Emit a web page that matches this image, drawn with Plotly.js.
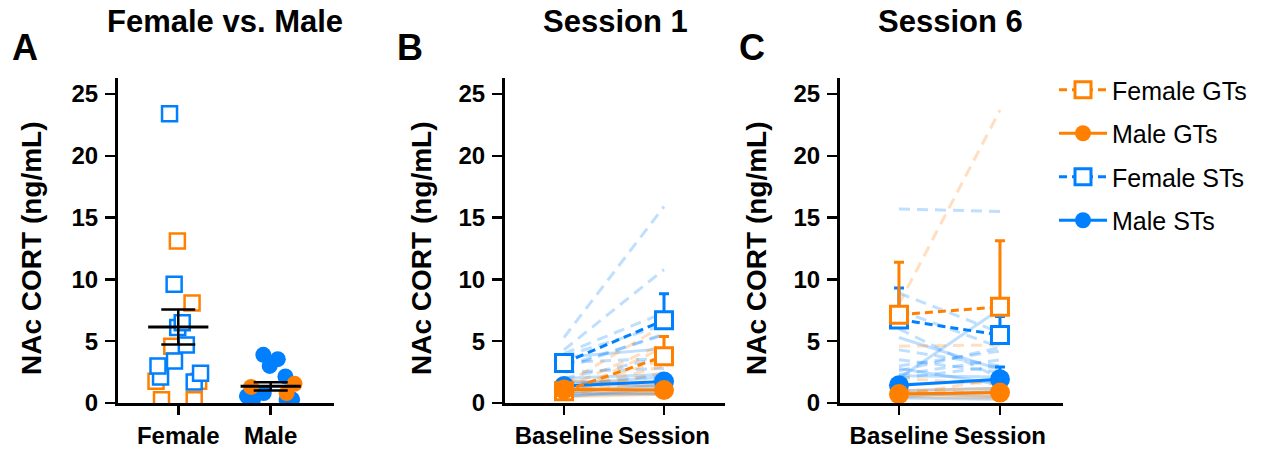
<!DOCTYPE html>
<html><head><meta charset="utf-8">
<script src="https://cdn.plot.ly/plotly-3.0.1.min.js"></script>
<style>html,body{margin:0;padding:0;background:#fff;}#chart{width:1271px;height:450px;}</style>
</head><body><div id="chart"></div>
<script>
// ---------- data ----------
const groupsA = ['Female', 'Male'];
const femaleGT_A = [13.1, 8.1, 4.6, 1.75, 1.75, 0.27, 0.27];
const femaleST_A = [23.4, 9.6, 6.5, 6.1, 4.7, 3.4, 3.0, 2.4, 2.1, 1.7];
const maleGT_A = [1.55, 1.3, 0.8];
const maleST_A = [3.9, 3.55, 3.0, 2.15, 0.8, 0.55, 0.3, 0.25, 0.25];
const meanA = [6.15, 1.35];
const semA = [1.42, 0.33];

const timepoints = ['Baseline', 'Session'];
// Session 1 individual subjects
const s1_FST_base = [5.3, 4.3, 4.0, 3.8, 3.3, 2.8, 2.5, 2.0, 1.5, 3.0];
const s1_FST_sess = [15.9, 10.8, 7.3, 6.3, 3.6, 5.6, 2.8, 3.7, 2.2, 5.5];
const s1_FGT_base = [1.5, 1.2, 1.0, 0.8, 0.6, 0.9, 0.7];
const s1_FGT_sess = [6.3, 4.8, 3.5, 2.5, 2.0, 3.0, 4.5];
const s1_MST_base = [3.7, 2.0, 1.8, 1.5, 1.2, 0.8, 0.6, 0.5, 0.8];
const s1_MST_sess = [4.4, 2.3, 1.3, 2.1, 1.0, 1.5, 0.8, 1.2, 0.7];
const s1_MGT_base = [1.8, 1.2, 0.9, 0.5];
const s1_MGT_sess = [1.6, 1.4, 0.8, 0.7];
// Session 1 group means and SEM
const s1_FGT_mean = [0.95, 3.78], s1_FGT_sem = [0.3, 1.6];
const s1_MGT_mean = [1.1, 1.05], s1_MGT_sem = [0.25, 0.2];
const s1_FST_mean = [3.24, 6.7], s1_FST_sem = [0.4, 2.15];
const s1_MST_mean = [1.38, 1.73], s1_MST_sem = [0.35, 0.45];

// Session 6 individual subjects
const s6_FST_base = [15.7, 8.9, 7.5, 6.0, 4.3, 3.5, 3.0, 2.6, 2.3, 2.0];
const s6_FST_sess = [15.5, 5.7, 4.5, 2.0, 3.0, 2.5, 4.2, 4.5, 3.5, 3.0];
const s6_FGT_base = [8.0, 4.6, 2.0, 1.0, 0.6];
const s6_FGT_sess = [23.7, 4.7, 1.5, 0.8, 2.0];
const s6_MST_base = [5.3, 2.0, 2.2, 1.5, 1.0, 0.8, 0.5, 2.8, 0.4];
const s6_MST_sess = [2.7, 7.6, 2.1, 1.8, 1.2, 0.5, 1.0, 1.5, 0.3];
const s6_MGT_base = [1.0, 0.7, 0.5, 0.8];
const s6_MGT_sess = [1.2, 0.9, 0.4, 0.6];
// Session 6 group means and SEM
const s6_FGT_mean = [7.15, 7.78], s6_FGT_sem = [4.25, 5.35];
const s6_MGT_mean = [0.72, 0.84], s6_MGT_sem = [0.2, 0.3];
const s6_FST_mean = [6.75, 5.5], s6_FST_sem = [2.55, 1.5];
const s6_MST_mean = [1.43, 1.92], s6_MST_sem = [0.4, 1.0];

const yTicks = [0, 5, 10, 15, 20, 25];

// ---------- styles ----------
const ORANGE = 'rgb(255,128,0)';
const BLUE = 'rgb(0,128,255)';
const ORANGE_L = 'rgba(255,128,0,0.25)';
const BLUE_L = 'rgba(0,128,255,0.25)';
const FONT = 'Liberation Sans, Arial, sans-serif';
const W = 1271, H = 450;

const traces = [];

// Panel A: scatter of individual values
function boxPts(vals, pos, color, symbol, size) {
  const filled = symbol === 'circle';
  return {
    type: 'box', y: vals, x0: pos, name: pos, boxpoints: 'all', jitter: 1, pointpos: 0,
    fillcolor: 'rgba(0,0,0,0)', line: {width: 0, color: 'rgba(0,0,0,0)'},
    marker: {symbol: filled ? 'circle' : 'square', size: size,
      color: filled ? color : 'white', line: {color: color, width: filled ? 0 : 2.5}},
    xaxis: 'x', yaxis: 'y', showlegend: false, hoverinfo: 'y'
  };
}
traces.push(boxPts(femaleGT_A, 'Female', ORANGE, 'square', 15));
traces.push(boxPts(femaleST_A, 'Female', BLUE, 'square', 15));
traces.push(boxPts(maleST_A, 'Male', BLUE, 'circle', 16));
traces.push(boxPts(maleGT_A, 'Male', ORANGE, 'circle', 16));
traces.push({
  type: 'scatter', mode: 'markers', x: groupsA, y: meanA,
  marker: {symbol: 'line-ew', size: 43, color: 'black', line: {color: 'black', width: 3}},
  error_y: {type: 'data', array: semA, visible: true, color: 'black', thickness: 2.5, width: 17},
  xaxis: 'x', yaxis: 'y', showlegend: false, cliponaxis: false
});

// Panels B & C
function subjects(base, sess, color, dash, ax) {
  const x = [], y = [];
  base.forEach((b, i) => { x.push(timepoints[0], timepoints[1], timepoints[1]); y.push(b, sess[i], null); });
  return {type: 'scatter', mode: 'lines', x: x, y: y, connectgaps: false,
    line: {color: color, width: 3, dash: dash ? '11px,7px' : 'solid'},
    xaxis: 'x' + ax, yaxis: 'y' + ax, showlegend: false, hoverinfo: 'skip', cliponaxis: false};
}
function meanTrace(mean, sem, color, female, ax, name, rank, legend) {
  return {type: 'scatter', mode: 'lines+markers', x: timepoints, y: mean, name: name,
    legendgroup: name, legendrank: rank, showlegend: legend,
    line: {color: color, width: 3, dash: female ? '8px,5px' : 'solid'},
    marker: female ? {symbol: 'square', size: 17, color: 'white', line: {color: color, width: 3}}
                   : {symbol: 'circle', size: 20, color: color, line: {width: 0}},
    error_y: {type: 'data', array: sem, arrayminus: [0, 0], symmetric: false, visible: true,
      color: color, thickness: 3, width: 5},
    xaxis: 'x' + ax, yaxis: 'y' + ax, cliponaxis: false};
}
function panel(ax, ind, means, legend) {
  traces.push(subjects(ind.FST[0], ind.FST[1], BLUE_L, true, ax));
  traces.push(subjects(ind.MST[0], ind.MST[1], BLUE_L, false, ax));
  traces.push(subjects(ind.FGT[0], ind.FGT[1], ORANGE_L, true, ax));
  traces.push(subjects(ind.MGT[0], ind.MGT[1], ORANGE_L, false, ax));
  traces.push(meanTrace(means.FST[0], means.FST[1], BLUE, true, ax, 'Female STs', 3, legend));
  traces.push(meanTrace(means.MST[0], means.MST[1], BLUE, false, ax, 'Male STs', 4, legend));
  traces.push(meanTrace(means.FGT[0], means.FGT[1], ORANGE, true, ax, 'Female GTs', 1, legend));
  traces.push(meanTrace(means.MGT[0], means.MGT[1], ORANGE, false, ax, 'Male GTs', 2, legend));
}
panel('2',
  {FST: [s1_FST_base, s1_FST_sess], MST: [s1_MST_base, s1_MST_sess], FGT: [s1_FGT_base, s1_FGT_sess], MGT: [s1_MGT_base, s1_MGT_sess]},
  {FST: [s1_FST_mean, s1_FST_sem], MST: [s1_MST_mean, s1_MST_sem], FGT: [s1_FGT_mean, s1_FGT_sem], MGT: [s1_MGT_mean, s1_MGT_sem]}, true);
panel('3',
  {FST: [s6_FST_base, s6_FST_sess], MST: [s6_MST_base, s6_MST_sess], FGT: [s6_FGT_base, s6_FGT_sess], MGT: [s6_MGT_base, s6_MGT_sess]},
  {FST: [s6_FST_mean, s6_FST_sem], MST: [s6_MST_mean, s6_MST_sem], FGT: [s6_FGT_mean, s6_FGT_sem], MGT: [s6_MGT_mean, s6_MGT_sem]}, false);

// ---------- layout ----------
const yDom = [(H - 403) / H, (H - 78) / H];
function yAxis(anchor) {
  return {domain: yDom, anchor: anchor, range: [0, 26.3], tickvals: yTicks, ticktext: yTicks.map(String),
    showline: true, linecolor: 'black', linewidth: 3, ticks: 'outside', ticklen: 10, tickwidth: 2.5,
    tickcolor: 'black', tickfont: {family: FONT, size: 24, weight: 'bold', color: 'black'},
    showgrid: false, zeroline: false, fixedrange: true, ticklabelstandoff: 2};
}
function xAxis(anchor, left, right, cats, range) {
  return {domain: [left / W, right / W], anchor: anchor, type: 'category', categoryarray: cats,
    categoryorder: 'array', range: range, tickangle: 0,
    showline: true, linecolor: 'black', linewidth: 3, ticks: 'outside', ticklen: 9, tickwidth: 2.5,
    tickcolor: 'black', tickfont: {family: FONT, size: 24, weight: 'bold', color: 'black'},
    showgrid: false, zeroline: false, fixedrange: true};
}
function ann(text, xpx, ypx, size, extra) {
  return Object.assign({text: text, xref: 'paper', yref: 'paper', x: xpx / W, y: (H - ypx) / H,
    xanchor: 'center', yanchor: 'middle', showarrow: false,
    font: {family: FONT, size: size, weight: 'bold', color: 'black'}}, extra || {});
}

const layout = {
  width: W, height: H, margin: {l: 0, r: 0, t: 0, b: 0},
  paper_bgcolor: 'white', plot_bgcolor: 'white', boxmode: 'overlay', boxgap: 0.05,
  showlegend: true,
  xaxis: xAxis('y', 118, 334, groupsA, [-0.652, 1.685]),
  yaxis: yAxis('x'),
  xaxis2: xAxis('y2', 505, 725, timepoints, [-0.59, 1.61]),
  yaxis2: yAxis('x2'),
  xaxis3: xAxis('y3', 840, 1063, timepoints, [-0.584, 1.624]),
  yaxis3: yAxis('x3'),
  legend: {x: 1054 / W, xanchor: 'left', y: (H - 67) / H, yanchor: 'top',
    font: {family: FONT, size: 25, color: 'black'}, tracegroupgap: 8, itemwidth: 48,
    bgcolor: 'rgba(0,0,0,0)', borderwidth: 0, traceorder: 'grouped'},
  annotations: [
    ann('A', 25, 47, 36),
    ann('B', 410, 47, 36),
    ann('C', 752, 47, 36),
    ann('Female vs. Male', 225, 22, 31),
    ann('Session 1', 615, 22, 31),
    ann('Session 6', 950, 22, 31),
    ann('NAc CORT (ng/mL)', 31, 248, 28, {textangle: -90}),
    ann('NAc CORT (ng/mL)', 421, 248, 28, {textangle: -90}),
    ann('NAc CORT (ng/mL)', 756, 248, 28, {textangle: -90})
  ]
};

Plotly.newPlot('chart', traces, layout, {displayModeBar: false, staticPlot: true});
</script></body></html>
